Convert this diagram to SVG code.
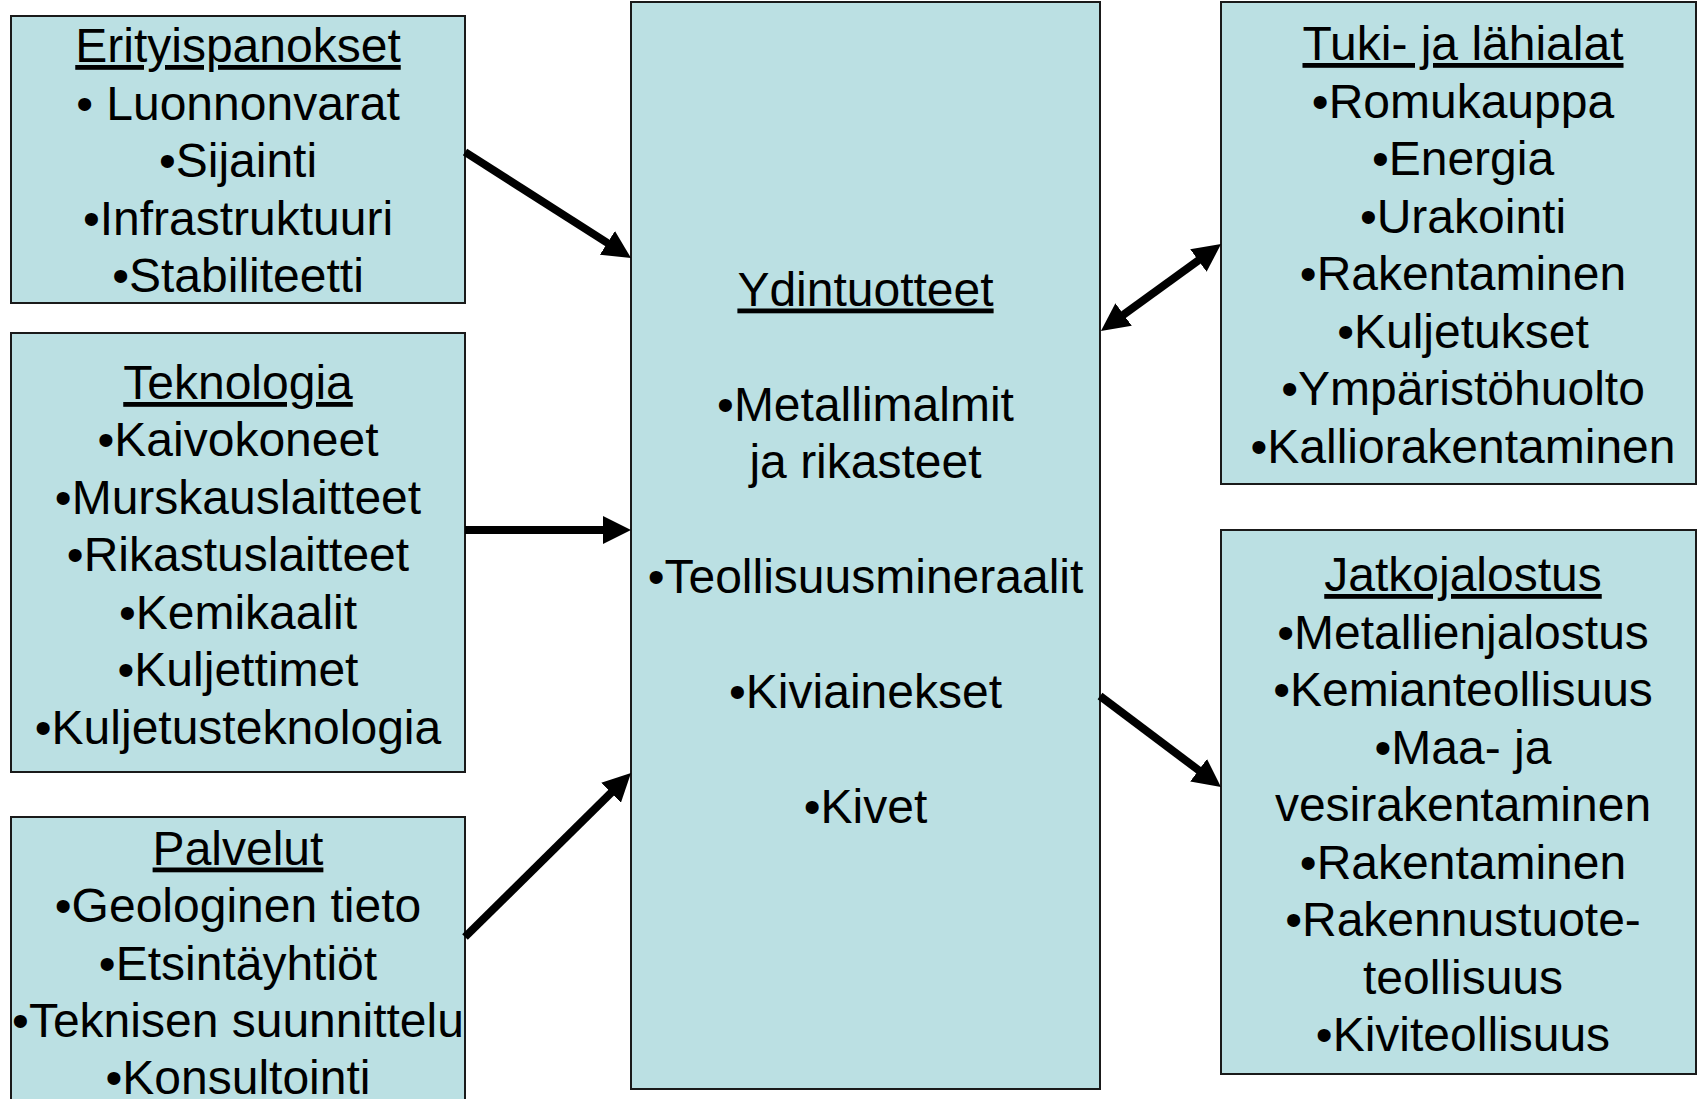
<svg xmlns="http://www.w3.org/2000/svg" width="1697" height="1099" viewBox="0 0 1697 1099">
<style>
.box{fill:#BBE0E3;stroke:#1a1a1a;stroke-width:2}
text{font-family:"Liberation Sans",Arial,Helvetica,sans-serif;font-size:48px;fill:#000;text-anchor:middle}
.t{text-decoration:underline}
.arr{stroke:#000;stroke-width:8;fill:none}
</style>
<defs>
<marker id="ah" markerUnits="userSpaceOnUse" markerWidth="28" markerHeight="28" viewBox="0 0 28 28" refX="2" refY="14" orient="auto-start-reverse">
<path d="M0,0 L28,14 L0,28 z" fill="#000"/>
</marker>
</defs>
<rect width="1697" height="1099" fill="#fff"/>
<g id="erityispanokset">
<rect class="box" x="11" y="16" width="454" height="287"/>
<text x="238" y="62" class="t">Erityispanokset</text>
<text x="238" y="119.5">• Luonnonvarat</text>
<text x="238" y="177">•Sijainti</text>
<text x="238" y="234.5">•Infrastruktuuri</text>
<text x="238" y="292">•Stabiliteetti</text>
</g>
<g id="teknologia">
<rect class="box" x="11" y="333" width="454" height="439"/>
<text x="238" y="399" class="t">Teknologia</text>
<text x="238" y="456">•Kaivokoneet</text>
<text x="238" y="513.5">•Murskauslaitteet</text>
<text x="238" y="571">•Rikastuslaitteet</text>
<text x="238" y="628.5">•Kemikaalit</text>
<text x="238" y="686">•Kuljettimet</text>
<text x="238" y="743.5">•Kuljetusteknologia</text>
</g>
<g id="palvelut">
<rect class="box" x="11" y="817" width="454" height="300"/>
<text x="238" y="864.5" class="t">Palvelut</text>
<text x="238" y="922">•Geologinen tieto</text>
<text x="238" y="979.5">•Etsintäyhtiöt</text>
<text x="238" y="1037">•Teknisen suunnittelu</text>
<text x="238" y="1094">•Konsultointi</text>
</g>
<g id="ydintuotteet">
<rect class="box" x="631" y="2" width="469" height="1087"/>
<text x="865.5" y="305.5" class="t">Ydintuotteet</text>
<text x="865.5" y="420.5">•Metallimalmit</text>
<text x="865.5" y="478">ja rikasteet</text>
<text x="865.5" y="593">•Teollisuusmineraalit</text>
<text x="865.5" y="708">•Kiviainekset</text>
<text x="865.5" y="823">•Kivet</text>
</g>
<g id="tuki">
<rect class="box" x="1221" y="2" width="475" height="482"/>
<text x="1463" y="60" class="t">Tuki- ja lähialat</text>
<text x="1463" y="117.5">•Romukauppa</text>
<text x="1463" y="175">•Energia</text>
<text x="1463" y="232.5">•Urakointi</text>
<text x="1463" y="290">•Rakentaminen</text>
<text x="1463" y="347.5">•Kuljetukset</text>
<text x="1463" y="405">•Ympäristöhuolto</text>
<text x="1463" y="462.5">•Kalliorakentaminen</text>
</g>
<g id="jatkojalostus">
<rect class="box" x="1221" y="530" width="475" height="544"/>
<text x="1463" y="591" class="t">Jatkojalostus</text>
<text x="1463" y="648.5">•Metallienjalostus</text>
<text x="1463" y="706">•Kemianteollisuus</text>
<text x="1463" y="763.5">•Maa- ja</text>
<text x="1463" y="821">vesirakentaminen</text>
<text x="1463" y="878.5">•Rakentaminen</text>
<text x="1463" y="936">•Rakennustuote-</text>
<text x="1463" y="993.5">teollisuus</text>
<text x="1463" y="1051">•Kiviteollisuus</text>
</g>
<g id="connectors">
<line class="arr" x1="465" y1="152" x2="609.1" y2="244" marker-end="url(#ah)"/>
<line class="arr" x1="465" y1="530" x2="605" y2="530" marker-end="url(#ah)"/>
<line class="arr" x1="465" y1="937" x2="612.5" y2="791.3" marker-end="url(#ah)"/>
<line class="arr" x1="1122" y1="315.7" x2="1200" y2="259.3" marker-start="url(#ah)" marker-end="url(#ah)"/>
<line class="arr" x1="1100" y1="696" x2="1200.2" y2="771.4" marker-end="url(#ah)"/>
</g>
</svg>
